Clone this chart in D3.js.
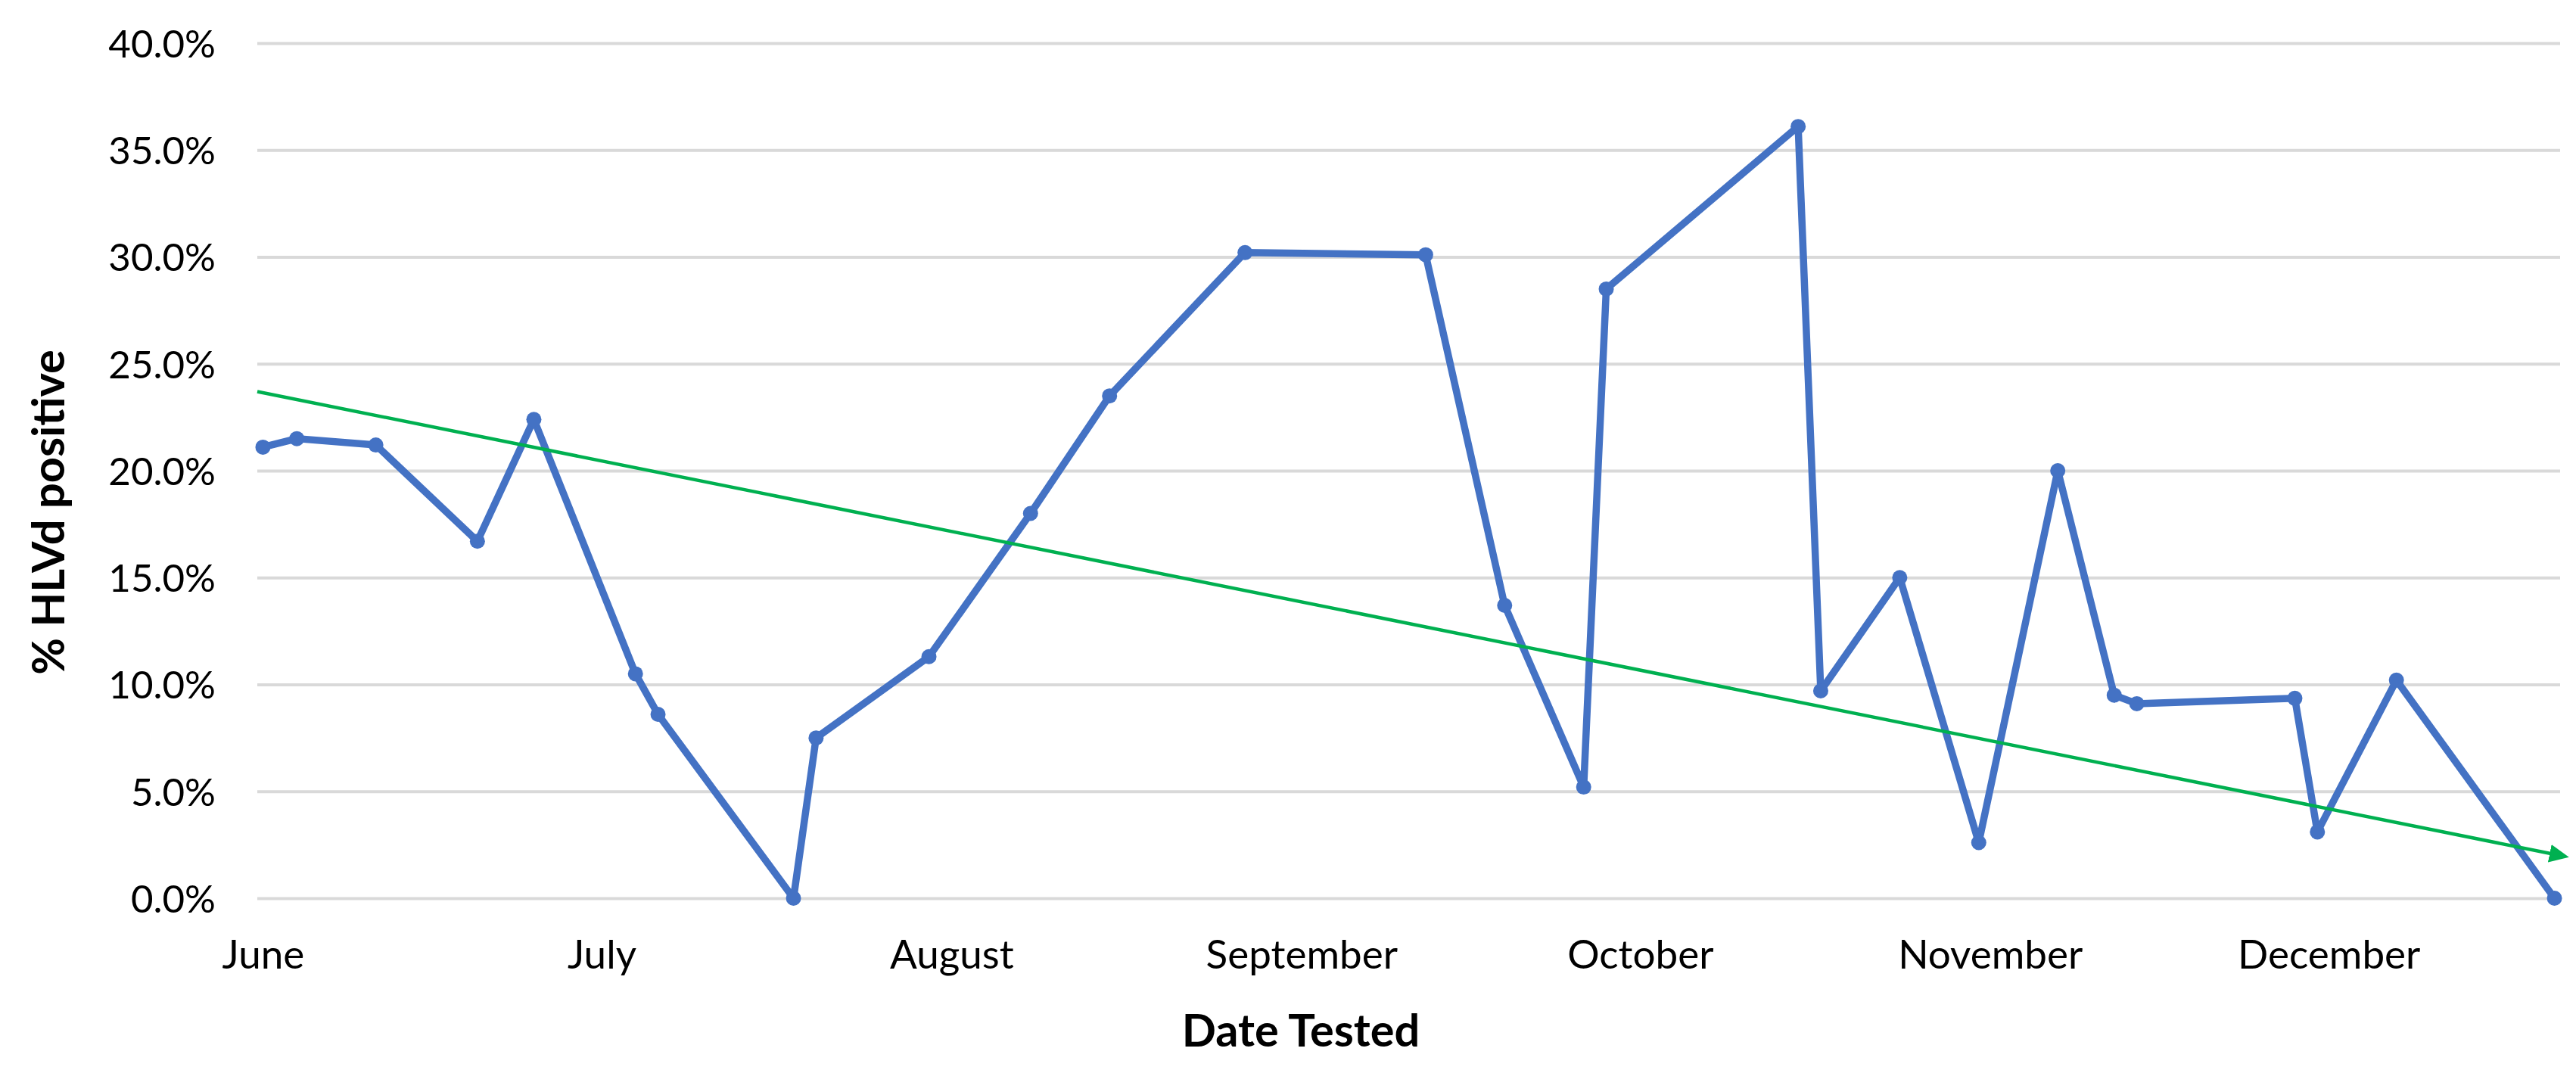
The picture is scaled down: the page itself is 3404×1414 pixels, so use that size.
<!DOCTYPE html>
<html>
<head>
<meta charset="utf-8">
<script src="https://cdn.jsdelivr.net/npm/d3@7"></script>
<style>
  html, body { margin: 0; padding: 0; background: #ffffff; }
  svg { display: block; }
</style>
</head>
<body>
<svg id="chart" width="3404" height="1414"></svg>
<script>
// ---------------- data ----------------
const dates = [
  "2021-06-01", "2021-06-04", "2021-06-11", "2021-06-20", "2021-06-25",
  "2021-07-04", "2021-07-06", "2021-07-18", "2021-07-20", "2021-07-30",
  "2021-08-08", "2021-08-15", "2021-08-27", "2021-09-12", "2021-09-19",
  "2021-09-26", "2021-09-28", "2021-10-15", "2021-10-17", "2021-10-24",
  "2021-10-31", "2021-11-07", "2021-11-12", "2021-11-14", "2021-11-28",
  "2021-11-30", "2021-12-07", "2021-12-21"
];
const percentPositive = [
  21.1, 21.5, 21.2, 16.7, 22.4,
  10.5, 8.6, 0.0, 7.5, 11.3,
  18.0, 23.5, 30.2, 30.1, 13.7,
  5.2, 28.5, 36.1, 9.7, 15.0,
  2.6, 20.0, 9.5, 9.1, 9.35,
  3.1, 10.2, 0.0
];
// trend line: value at axis start and at axis end
const trendValues = [23.7, 2.0];
const yTicks = [0, 5, 10, 15, 20, 25, 30, 35, 40];
const monthTicks = ["2021-06-01", "2021-07-01", "2021-08-01", "2021-09-01",
                    "2021-10-01", "2021-11-01", "2021-12-01"];
const xTitle = "Date Tested";
const yTitle = "% HLVd positive";

// ---------------- layout ----------------
const parse = d3.utcParse("%Y-%m-%d");
const plot = { left: 340, right: 3383, top: 57, bottom: 1187 };
const halfDay = 12 * 3600 * 1000;
const firstDate = parse(dates[0]);
const lastDate = parse(dates[dates.length - 1]);

// each day occupies one slot; points sit at the slot centre (noon)
const x = d3.scaleUtc()
  .domain([firstDate, new Date(+lastDate + 2 * halfDay)])
  .range([plot.left, plot.right]);
const y = d3.scaleLinear().domain([0, 40]).range([plot.bottom, plot.top]);

const svg = d3.select("#chart");
svg.append("rect").attr("width", 3404).attr("height", 1414).attr("fill", "#ffffff");

const FONT = "Lato, 'Open Sans', sans-serif";

// gridlines
const grid = svg.append("g")
  .attr("transform", `translate(${plot.left},0)`)
  .call(d3.axisLeft(y).tickValues(yTicks).tickSize(-(plot.right - plot.left)).tickFormat(""));
grid.select(".domain").remove();
grid.selectAll("line").attr("stroke", "#D9D9D9").attr("stroke-width", 4);

// y axis labels
const yAxis = svg.append("g")
  .attr("transform", `translate(${plot.left},0)`)
  .call(d3.axisLeft(y).tickValues(yTicks).tickSize(0).tickPadding(55)
        .tickFormat(d => d3.format(".1f")(d) + "%"));
yAxis.select(".domain").remove();
yAxis.selectAll("text")
  .attr("font-family", FONT).attr("font-size", 51).attr("fill", "#000")
  .attr("dy", "0.36em");

// x axis labels
const xAxis = svg.append("g")
  .attr("transform", `translate(0,${plot.bottom})`)
  .call(d3.axisBottom(x).tickValues(monthTicks.map(d => new Date(+parse(d) + halfDay)))
        .tickSize(0).tickPadding(55).tickFormat(d3.utcFormat("%B")));
xAxis.select(".domain").remove();
xAxis.selectAll("text")
  .attr("font-family", FONT).attr("font-size", 53).attr("fill", "#000");

// data series
const pts = dates.map((d, i) => ({ date: new Date(+parse(d) + halfDay), v: percentPositive[i] }));
const line = d3.line().x(d => x(d.date)).y(d => y(d.v));

svg.append("path")
  .datum(pts)
  .attr("d", line)
  .attr("fill", "none")
  .attr("stroke", "#4472C4")
  .attr("stroke-width", 9.5)
  .attr("stroke-linejoin", "round")
  .attr("stroke-linecap", "round");

svg.append("g").selectAll("circle")
  .data(pts)
  .join("circle")
  .attr("cx", d => x(d.date))
  .attr("cy", d => y(d.v))
  .attr("r", 10)
  .attr("fill", "#4472C4");

// trend line with arrow
const defs = svg.append("defs");
defs.append("marker")
  .attr("id", "arrow")
  .attr("markerUnits", "userSpaceOnUse")
  .attr("viewBox", "0 -13 26 26")
  .attr("markerWidth", 26).attr("markerHeight", 26)
  .attr("refX", 14).attr("refY", 0)
  .attr("orient", "auto")
  .append("path")
  .attr("d", "M0,-12L26,0L0,12Z")
  .attr("fill", "#00B050");

const trendPts = [
  { date: x.domain()[0], v: trendValues[0] },
  { date: x.domain()[1], v: trendValues[1] }
];
svg.append("path")
  .datum(trendPts)
  .attr("d", line)
  .attr("fill", "none")
  .attr("stroke", "#00B050")
  .attr("stroke-width", 4.5)
  .attr("marker-end", "url(#arrow)");

// axis titles
svg.append("text")
  .attr("x", 1719).attr("y", 1383)
  .attr("text-anchor", "middle")
  .attr("font-family", FONT).attr("font-weight", "bold").attr("font-size", 59.5)
  .attr("fill", "#000")
  .text(xTitle);

svg.append("text")
  .attr("transform", "translate(85,677) rotate(-90)")
  .attr("text-anchor", "middle")
  .attr("font-family", FONT).attr("font-weight", "bold").attr("font-size", 59.5)
  .attr("fill", "#000")
  .text(yTitle);
</script>
</body>
</html>
